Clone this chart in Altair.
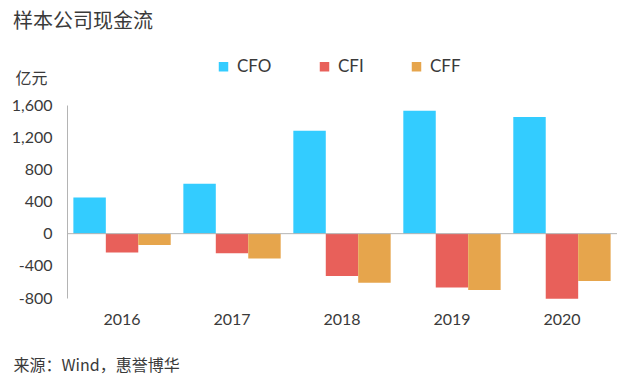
import altair as alt
import pandas as pd

years = ["2016", "2017", "2018", "2019", "2020"]
series = ["CFO", "CFI", "CFF"]
cfo = [450, 620, 1280, 1530, 1450]
cfi = [-235, -245, -525, -670, -810]
cff = [-140, -310, -610, -700, -590]
colors = ["#33ccff", "#e8605a", "#e6a54c"]
y_ticks = [-800, -400, 0, 400, 800, 1200, 1600]

rows = []
for name, vals in zip(series, [cfo, cfi, cff]):
    for yr, v in zip(years, vals):
        rows.append({"year": yr, "series": name, "value": v})
df = pd.DataFrame(rows)

text_color = "#3a3a3a"
gray = "#b4b4b4"

y_scale = alt.Scale(domain=[-800, 1600], nice=False, zero=False)
y_axis = alt.Axis(
    title="亿元",
    titleFont="Noto Sans CJK SC",
    titleFontSize=16,
    titleFontWeight="normal",
    titleColor=text_color,
    titleAngle=0,
    titleAlign="left",
    titleBaseline="middle",
    titleX=-52,
    titleY=-27,
    values=y_ticks,
    tickCount=7,
    labelExpr="replace(format(datum.value, ','), '\u2212', '-')",
    labelFont="Lato",
    labelFontSize=16,
    labelColor=text_color,
    labelPadding=15,
    labelOverlap=False,
    labelBound=False,
    labelFlush=False,
    domain=True,
    domainColor=gray,
    domainWidth=1,
    ticks=False,
    grid=False,
)

bars = alt.Chart(df).mark_bar().encode(
    x=alt.X(
        "year:N",
        sort=years,
        scale=alt.Scale(paddingInner=0.115, paddingOuter=0.058),
        axis=alt.Axis(
            title="来源：Wind，惠誉博华",
            titleFont="Noto Sans CJK SC",
            titleFontSize=16,
            titleFontWeight="normal",
            titleColor=text_color,
            titleAngle=0,
            titleAlign="left",
            titleBaseline="middle",
            titleX=-54,
            titleY=67,
            labelFont="Lato",
            labelFontSize=16,
            labelColor=text_color,
            labelAngle=0,
            labelPadding=13,
            domain=False,
            ticks=False,
            grid=False,
        ),
    ),
    xOffset=alt.XOffset("series:N", sort=series, scale=alt.Scale(paddingInner=0, paddingOuter=0)),
    y=alt.Y("value:Q", scale=y_scale, axis=y_axis),
    color=alt.Color(
        "series:N",
        sort=series,
        scale=alt.Scale(domain=series, range=colors),
        legend=alt.Legend(
            title=None,
            orient="none",
            direction="horizontal",
            legendX=148,
            legendY=-47,
            symbolType="square",
            symbolSize=90,
            symbolStrokeWidth=0,
            labelFont="Lato",
            labelFontSize=17,
            labelColor=text_color,
            labelOffset=5,
            columnPadding=44,
            padding=0,
        ),
    ),
)

zero = (
    alt.Chart(df)
    .transform_aggregate(n="count()")
    .transform_calculate(z="0")
    .mark_rule(color=gray, strokeWidth=1)
    .encode(y=alt.Y("z:Q", scale=y_scale, axis=y_axis))
)

chart = (
    alt.layer(bars, zero)
    .properties(
        width=550,
        height=193,
        autosize=alt.AutoSizeParams(type="none"),
        padding={"left": 59, "top": 97, "right": 5, "bottom": 85},
        title=alt.TitleParams(
            "样本公司现金流",
            anchor="start",
            frame="group",
            dx=-54,
            offset=26,
            font="Noto Sans CJK SC",
            fontSize=20,
            fontWeight="normal",
            color=text_color,
        ),
    )
    .configure_view(stroke=None)
)

chart.save("out.html", embed_options={"renderer": "svg", "actions": False})
